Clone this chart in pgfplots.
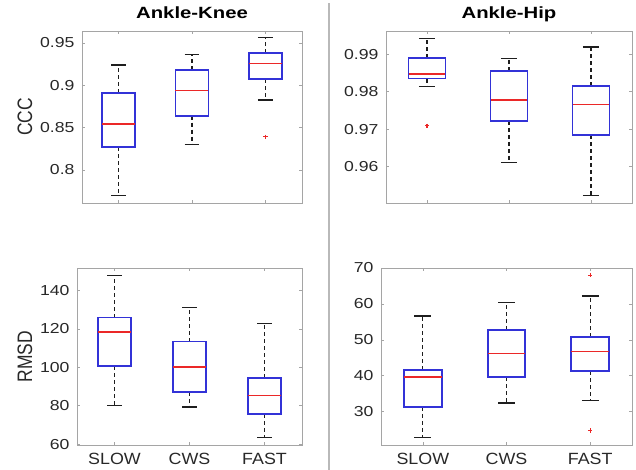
\documentclass[border=0pt]{standalone}
\usepackage{graphicx}
\usepackage{fontspec}
\setmainfont{Liberation Sans}
\newfontfamily\ytickfont{Liberation Sans}[FakeStretch=1.22]
\newfontfamily\xtickfont{Liberation Sans}[FakeStretch=1.1]
\newfontfamily\titlefont{Liberation Sans}[FakeStretch=1.25]
\newfontfamily\labelfont{Liberation Sans}
\usepackage{pgfplots}
\pgfplotsset{compat=1.18}
\definecolor{mblue}{RGB}{50,50,215}
\definecolor{mred}{RGB}{235,40,40}
\definecolor{wblack}{RGB}{30,30,30}
\definecolor{txtgray}{RGB}{40,40,40}
\definecolor{axgray}{RGB}{165,165,165}
\pgfplotsset{
  boxst/.style={color=mblue, line width=1.8bp, line join=miter, line cap=rect, mark=none},
  medst/.style={color=mred, line width=1.5bp, mark=none},
  whiskst/.style={color=wblack, line width=1.3bp, dash pattern=on 4bp off 3bp, mark=none},
  capst/.style={color=wblack, line width=1.3bp, mark=none},
  outst/.style={only marks, mark=+, color=mred, mark size=2.2bp, mark options={line width=1.1bp, solid}},
  myaxis/.style={
    scale only axis, anchor=south west,
    unbounded coords=jump,
    xmin=0.5, xmax=3.5, xtick={1,2,3},
    axis line style={axgray, line width=0.7bp},
    tick style={axgray, line width=0.6bp},
    major tick length=3bp, tick align=inside,
    xtick pos=both, ytick pos=both,
    /pgf/number format/assume math mode=true,
    /pgf/number format/fixed,
    /pgf/number format/precision=2,
    yticklabel style={font=\ytickfont\fontsize{14.5}{16}\selectfont, text=txtgray, xshift=-4bp},
    xticklabel style={font=\xtickfont\fontsize{16.3}{18}\selectfont, text=txtgray, yshift=-4.5bp},
    title style={font=\titlefont\bfseries\fontsize{16.3}{18}\selectfont, text=black, at={(0.5,1)}, anchor=base, yshift=7bp, inner sep=0pt},
    ylabel style={font=\labelfont\fontsize{17.5}{20}\selectfont, text=txtgray, anchor=center},
  },
}
\begin{document}
\begin{tikzpicture}
\useasboundingbox (0,0) rectangle (636bp,470bp);
\draw[gray!55, line width=1.5bp] (329bp,0bp) -- (329bp,467bp);

% Top-left: Ankle-Knee CCC
\begin{axis}[myaxis, at={(82bp,267bp)}, width=220bp, height=172bp,
  ymin=0.761, ymax=0.964, ytick={0.8,0.85,0.9,0.95}, xticklabels={},
  title={Ankle-Knee}, ylabel={\scalebox{1}[1.2]{CCC}},
  ylabel style={at={(axis description cs:-0.259,0.5)}}]
\addplot[whiskst] coordinates {(1,0.891) (1,0.924) (nan,nan) (1,0.827) (1,0.770) (nan,nan)
  (2,0.918) (2,0.936) (nan,nan) (2,0.864) (2,0.830) (nan,nan)
  (3,0.938) (3,0.956) (nan,nan) (3,0.907) (3,0.8825)};
\addplot[capst] coordinates {(0.9,0.924) (1.1,0.924) (nan,nan) (0.9,0.770) (1.1,0.770) (nan,nan)
  (1.9,0.936) (2.1,0.936) (nan,nan) (1.9,0.830) (2.1,0.830) (nan,nan)
  (2.9,0.956) (3.1,0.956) (nan,nan) (2.9,0.8825) (3.1,0.8825)};
\addplot[boxst] coordinates {(0.775,0.827) (1.225,0.827) (1.225,0.891) (0.775,0.891) (0.775,0.827) (nan,nan)
  (1.775,0.864) (2.225,0.864) (2.225,0.918) (1.775,0.918) (1.775,0.864) (nan,nan)
  (2.775,0.907) (3.225,0.907) (3.225,0.938) (2.775,0.938) (2.775,0.907)};
\addplot[medst] coordinates {(0.775,0.854) (1.225,0.854) (nan,nan)
  (1.775,0.894) (2.225,0.894) (nan,nan) (2.775,0.9255) (3.225,0.9255)};
\addplot[outst] coordinates {(3,0.839)};
\end{axis}

% Top-right: Ankle-Hip CCC
\begin{axis}[myaxis, at={(386bp,267bp)}, width=246bp, height=172bp,
  ymin=0.9503, ymax=0.9962, ytick={0.96,0.97,0.98,0.99}, xticklabels={},
  title={Ankle-Hip}]
\addplot[whiskst] coordinates {(1,0.9891) (1,0.9942) (nan,nan) (1,0.9835) (1,0.9814) (nan,nan)
  (2,0.9855) (2,0.9889) (nan,nan) (2,0.9722) (2,0.9612) (nan,nan)
  (3,0.9816) (3,0.9919) (nan,nan) (3,0.9684) (3,0.9523)};
\addplot[capst] coordinates {(0.9,0.9942) (1.1,0.9942) (nan,nan) (0.9,0.9814) (1.1,0.9814) (nan,nan)
  (1.9,0.9889) (2.1,0.9889) (nan,nan) (1.9,0.9612) (2.1,0.9612) (nan,nan)
  (2.9,0.9919) (3.1,0.9919) (nan,nan) (2.9,0.9523) (3.1,0.9523)};
\addplot[boxst] coordinates {(0.775,0.9835) (1.225,0.9835) (1.225,0.9891) (0.775,0.9891) (0.775,0.9835) (nan,nan)
  (1.775,0.9722) (2.225,0.9722) (2.225,0.9855) (1.775,0.9855) (1.775,0.9722) (nan,nan)
  (2.775,0.9684) (3.225,0.9684) (3.225,0.9816) (2.775,0.9816) (2.775,0.9684)};
\addplot[medst] coordinates {(0.775,0.9847) (1.225,0.9847) (nan,nan)
  (1.775,0.9778) (2.225,0.9778) (nan,nan) (2.775,0.9766) (3.225,0.9766)};
\addplot[outst] coordinates {(1,0.9709)};
\end{axis}

% Bottom-left: Ankle-Knee RMSD
\begin{axis}[myaxis, at={(77bp,25bp)}, width=225bp, height=177bp,
  ymin=59.5, ymax=151.7, ytick={60,80,100,120,140}, xticklabels={SLOW,CWS,FAST},
  ylabel={\scalebox{1}[1.2]{RMSD}},
  ylabel style={at={(axis description cs:-0.231,0.5)}}]
\addplot[whiskst] coordinates {(1,125.9) (1,147.8) (nan,nan) (1,100.5) (1,80.0) (nan,nan)
  (2,113.4) (2,131.1) (nan,nan) (2,87.3) (2,79.3) (nan,nan)
  (3,94.6) (3,122.8) (nan,nan) (3,75.7) (3,63.5)};
\addplot[capst] coordinates {(0.9,147.8) (1.1,147.8) (nan,nan) (0.9,80.0) (1.1,80.0) (nan,nan)
  (1.9,131.1) (2.1,131.1) (nan,nan) (1.9,79.3) (2.1,79.3) (nan,nan)
  (2.9,122.8) (3.1,122.8) (nan,nan) (2.9,63.5) (3.1,63.5)};
\addplot[boxst] coordinates {(0.775,100.5) (1.225,100.5) (1.225,125.9) (0.775,125.9) (0.775,100.5) (nan,nan)
  (1.775,87.3) (2.225,87.3) (2.225,113.4) (1.775,113.4) (1.775,87.3) (nan,nan)
  (2.775,75.7) (3.225,75.7) (3.225,94.6) (2.775,94.6) (2.775,75.7)};
\addplot[medst] coordinates {(0.775,118.3) (1.225,118.3) (nan,nan)
  (1.775,100.2) (2.225,100.2) (nan,nan) (2.775,85.2) (3.225,85.2)};
\end{axis}

% Bottom-right: Ankle-Hip RMSD
\begin{axis}[myaxis, at={(381bp,25bp)}, width=251bp, height=177bp,
  ymin=20.7, ymax=70, ytick={30,40,50,60,70}, xticklabels={SLOW,CWS,FAST}]
\addplot[whiskst] coordinates {(1,41.6) (1,56.6) (nan,nan) (1,31.3) (1,22.8) (nan,nan)
  (2,52.8) (2,60.3) (nan,nan) (2,39.6) (2,32.4) (nan,nan)
  (3,50.8) (3,62.2) (nan,nan) (3,41.3) (3,33.0)};
\addplot[capst] coordinates {(0.9,56.6) (1.1,56.6) (nan,nan) (0.9,22.8) (1.1,22.8) (nan,nan)
  (1.9,60.3) (2.1,60.3) (nan,nan) (1.9,32.4) (2.1,32.4) (nan,nan)
  (2.9,62.2) (3.1,62.2) (nan,nan) (2.9,33.0) (3.1,33.0)};
\addplot[boxst] coordinates {(0.775,31.3) (1.225,31.3) (1.225,41.6) (0.775,41.6) (0.775,31.3) (nan,nan)
  (1.775,39.6) (2.225,39.6) (2.225,52.8) (1.775,52.8) (1.775,39.6) (nan,nan)
  (2.775,41.3) (3.225,41.3) (3.225,50.8) (2.775,50.8) (2.775,41.3)};
\addplot[medst] coordinates {(0.775,39.6) (1.225,39.6) (nan,nan)
  (1.775,46.2) (2.225,46.2) (nan,nan) (2.775,46.8) (3.225,46.8)};
\addplot[outst] coordinates {(3,68.0) (3,24.7)};
\end{axis}
\end{tikzpicture}
\end{document}
